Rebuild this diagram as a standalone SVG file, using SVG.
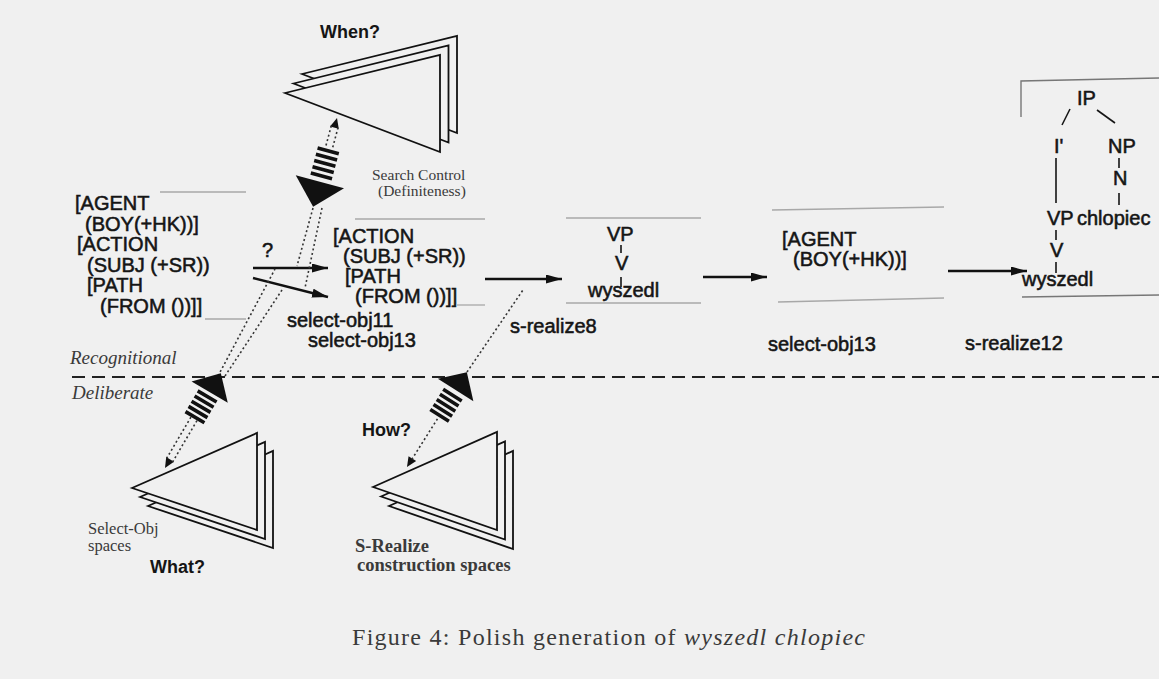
<svg xmlns="http://www.w3.org/2000/svg" width="1159" height="679" viewBox="0 0 1159 679">
<style>
.bg{fill:#f0f0f0}
.sans{font-family:"Liberation Sans",Arial,sans-serif;font-size:20px;fill:#151515;stroke:#151515;stroke-width:0.55}
.q{font-family:"Liberation Sans",Arial,sans-serif;font-size:18px;font-weight:bold;fill:#151515}
.ser{font-family:"Liberation Serif","Times New Roman",serif;fill:#3a3a3a}
.it{font-style:italic}
.arr{stroke:#111;stroke-width:2.5;fill:none;marker-end:url(#ah)}
.dot{stroke:#333;stroke-width:1.6;stroke-dasharray:2 2.6;fill:none}
.tri{fill:#f0f0f0;stroke:#111;stroke-width:1.8;stroke-linejoin:miter}
.rule{stroke:#a8a8a8;stroke-width:1.3;fill:none}
.box{stroke:#777;stroke-width:1.4;fill:none}
.tk{stroke:#151515;stroke-width:1.6}
.stripe{stroke:#111;stroke-width:3.6;fill:none}
.head{fill:#111}
</style>
<defs>
<marker id="ah" markerUnits="userSpaceOnUse" markerWidth="17" markerHeight="10" refX="16" refY="4.5" orient="auto">
<path d="M0,0 L16,4.5 L0,9 z" fill="#111"/>
</marker>
</defs>
<rect class="bg" x="0" y="0" width="1159" height="679"/>

<!-- faint state rules -->
<g id="rules">
<line class="rule" x1="160" y1="192" x2="246" y2="192"/>
<line class="rule" x1="205" y1="319" x2="246" y2="319"/>
<line class="rule" x1="355" y1="219" x2="485" y2="219"/>
<line class="rule" x1="457" y1="305" x2="485" y2="305"/>
<line class="rule" x1="566" y1="218" x2="701" y2="218"/>
<line class="rule" x1="566" y1="303" x2="701" y2="303"/>
<line class="rule" x1="772" y1="210" x2="944" y2="207"/>
<line class="rule" x1="778" y1="302" x2="944" y2="298"/>
<path class="box" d="M1021,117 L1021,81 L1159,78"/>
<line class="box" x1="1022" y1="297" x2="1159" y2="295"/>
</g>

<!-- level divider -->
<g id="divider">
<line x1="72" y1="377" x2="1159" y2="377" stroke="#222" stroke-width="2" stroke-dasharray="13 7"/>
<text class="ser it" x="70" y="364" font-size="19">Recognitional</text>
<text class="ser it" x="72" y="399" font-size="19">Deliberate</text>
</g>

<!-- problem spaces -->
<g id="space-search-control">
<polygon class="tri" points="302,74 457,36 457,133"/>
<polygon class="tri" points="293.5,83.5 448.5,45.5 448.5,142.5"/>
<polygon class="tri" points="285,93 440,55 440,152"/>
<text class="q" x="320" y="38">When?</text>
<text class="ser" x="372" y="180" font-size="15.5">Search Control</text>
<text class="ser" x="378" y="196" font-size="15.5">(Definiteness)</text>
</g>

<g id="space-select-obj">
<polygon class="tri" points="148,506 273,451 273,548"/>
<polygon class="tri" points="140,497 265,442 265,539"/>
<polygon class="tri" points="132,488 257,433 257,530"/>
<text class="ser" x="88" y="534" font-size="16.5">Select-Obj</text>
<text class="ser" x="88" y="551" font-size="16.5">spaces</text>
<text class="q" x="150" y="573">What?</text>
</g>

<g id="space-s-realize">
<polygon class="tri" points="389,506 513,451 513,549"/>
<polygon class="tri" points="381,496.5 505,441.5 505,539.5"/>
<polygon class="tri" points="373,487 497,432 497,530"/>
<text class="q" x="362" y="436">How?</text>
<text class="ser" x="355" y="552" font-size="18.5" font-weight="bold" fill="#151515">S-Realize</text>
<text class="ser" x="357" y="571" font-size="18.5" font-weight="bold" fill="#151515">construction spaces</text>
</g>

<!-- states -->
<g id="state-1">
<text class="sans" x="75" y="210">[AGENT</text>
<text class="sans" x="85" y="230.6">(BOY(+HK))]</text>
<text class="sans" x="77" y="251.2">[ACTION</text>
<text class="sans" x="87" y="271.8">(SUBJ (+SR))</text>
<text class="sans" x="87" y="292.4">[PATH</text>
<text class="sans" x="100" y="313">(FROM ())]]</text>
</g>

<g id="state-2">
<text class="sans" x="333" y="243">[ACTION</text>
<text class="sans" x="343" y="263">(SUBJ (+SR))</text>
<text class="sans" x="345" y="283">[PATH</text>
<text class="sans" x="355" y="303">(FROM ())]]</text>
</g>

<g id="state-3">
<text class="sans" x="607" y="241">VP</text>
<line class="tk" x1="621" y1="245" x2="621" y2="253"/>
<text class="sans" x="615" y="270">V</text>
<line class="tk" x1="621" y1="277" x2="621" y2="287"/>
<text class="sans" x="588" y="297">wyszedl</text>
</g>

<g id="state-4">
<text class="sans" x="782" y="246">[AGENT</text>
<text class="sans" x="793" y="266">(BOY(+HK))]</text>
</g>

<g id="state-5">
<text class="sans" x="1077" y="105">IP</text>
<line class="tk" x1="1070" y1="109" x2="1062" y2="125"/>
<line class="tk" x1="1097" y1="110" x2="1115" y2="123"/>
<text class="sans" x="1054" y="153">I'</text>
<text class="sans" x="1108" y="153">NP</text>
<line class="tk" x1="1119" y1="158" x2="1119" y2="168"/>
<text class="sans" x="1113" y="185">N</text>
<line class="tk" x1="1119" y1="193" x2="1119" y2="205"/>
<line class="tk" x1="1056" y1="158" x2="1056" y2="203"/>
<text class="sans" x="1047" y="225">VP</text>
<text class="sans" x="1077" y="225">chlopiec</text>
<line class="tk" x1="1056" y1="230" x2="1056" y2="240"/>
<text class="sans" x="1050" y="257">V</text>
<line class="tk" x1="1056" y1="262" x2="1056" y2="273"/>
<text class="sans" x="1022" y="286">wyszedl</text>
</g>

<!-- operators / connectors -->
<g id="connectors">
<text class="sans" x="262" y="257">?</text>
<line class="arr" x1="253" y1="268" x2="328" y2="268"/>
<line class="arr" x1="253" y1="278" x2="328" y2="297"/>
<text class="sans" x="287" y="327">select-obj11</text>
<text class="sans" x="308" y="347">select-obj13</text>

<line class="arr" x1="485" y1="279" x2="562" y2="279"/>
<text class="sans" x="510" y="333">s-realize8</text>

<line class="arr" x1="703" y1="277" x2="767" y2="277"/>
<text class="sans" x="768" y="351">select-obj13</text>

<line class="arr" x1="948" y1="271" x2="1027" y2="271"/>
<text class="sans" x="965" y="350">s-realize12</text>

<!-- dotted result / impasse links -->
<line class="dot" x1="313" y1="208" x2="297" y2="266"/>
<line class="dot" x1="322" y1="208" x2="305" y2="288"/>
<line class="dot" x1="218" y1="376" x2="275" y2="269"/>
<line class="dot" x1="225" y1="376" x2="282" y2="290"/>
<line class="dot" x1="467" y1="372" x2="523" y2="290"/>

<!-- impasse arrows -->
<g id="impasse-top" transform="translate(337,118) rotate(105.03)">
<polygon class="head" points="0,0 10,-4.5 10,4.5"/>
<line class="dot" x1="9" y1="-3.5" x2="32" y2="-3.5"/>
<line class="dot" x1="9" y1="3.5" x2="32" y2="3.5"/>
<path class="stripe" d="M34,-11 v22 M40.5,-11 v22 M47,-11 v22 M53.5,-11 v22 M60,-11 v22"/>
<polygon class="head" points="66,-25 66,25 92,0"/>
</g>
<g id="impasse-left" transform="translate(165,468) rotate(-59.5)">
<polygon class="head" points="0,0 10,-4.5 10,4.5"/>
<line class="dot" x1="9" y1="-3.5" x2="57" y2="-3.5"/>
<line class="dot" x1="9" y1="3.5" x2="57" y2="3.5"/>
<path class="stripe" d="M59,-11 v22 M65,-11 v22 M71,-11 v22 M77,-11 v22 M83,-11 v22"/>
<polygon class="head" points="88,-21 88,21 110,0"/>
</g>
<g id="impasse-mid" transform="translate(407,467) rotate(-57.7)">
<polygon class="head" points="0,0 10,-4.5 10,4.5"/>
<line class="dot" x1="9" y1="0" x2="59" y2="0"/>
<path class="stripe" d="M61,-11 v22 M67,-11 v22 M73,-11 v22 M79,-11 v22 M85,-11 v22"/>
<polygon class="head" points="91,-21 91,21 112,0"/>
</g>
</g>

<g id="caption">
<text class="ser" x="352" y="645" font-size="24" fill="#1a1a1a" textLength="513" lengthAdjust="spacing">Figure 4: Polish generation of <tspan class="it">wyszedl chlopiec</tspan></text>
</g>
</svg>
